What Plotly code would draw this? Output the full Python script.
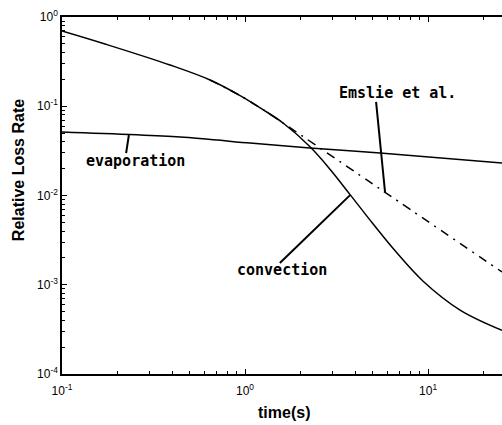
import plotly.graph_objects as go

# ---- data ----
conv_t = [0.1, 0.1718, 0.389, 0.644, 0.940, 1.259, 1.614, 2.265, 2.911, 3.750, 5.012, 6.607, 9.397, 14.96, 25.35]
conv_y = [0.697, 0.498, 0.290, 0.197, 0.1318, 0.0912, 0.0649, 0.0351, 0.0197, 0.01023, 0.00479, 0.0024, 0.001096, 0.000521, 0.000309]

emslie_t = [0.644, 0.940, 1.259, 1.614, 5.68, 25.35]
emslie_y = [0.197, 0.1318, 0.0912, 0.0649, 0.01122, 0.00139]

evap_t = [0.1, 0.442, 1.064, 2.26, 5.47, 25.35]
evap_y = [0.0514, 0.0452, 0.0387, 0.0340, 0.0299, 0.0231]

# leader lines (label -> curve)
lead_emslie_t = [5.20, 5.82]
lead_emslie_y = [0.1117, 0.01094]
lead_evap_t = [0.232, 0.224]
lead_evap_y = [0.0476, 0.0299]
lead_conv_t = [1.55, 3.75]
lead_conv_y = [0.00175, 0.0101]

x_ticks = [0.1, 1, 10]
x_ticktext = ["10<sup>-1</sup>", "10<sup>0</sup>", "10<sup>1</sup>"]
y_ticks = [1e-4, 1e-3, 1e-2, 1e-1, 1]
y_ticktext = ["10<sup>-4</sup>", "10<sup>-3</sup>", "10<sup>-2</sup>", "10<sup>-1</sup>", "10<sup>0</sup>"]

x_minor = [m * d for d in [0.1, 1, 10] for m in range(2, 10)]
y_minor = [m * d for d in [1e-4, 1e-3, 1e-2, 1e-1] for m in range(2, 10)]

fig = go.Figure()
fig.add_trace(go.Scatter(x=conv_t, y=conv_y, mode="lines",
                         line=dict(color="black", width=1.5, shape="spline", smoothing=1.0), showlegend=False))
fig.add_trace(go.Scatter(x=emslie_t, y=emslie_y, mode="lines",
                         line=dict(color="black", width=1.5, dash="9px,6px,2px,6px", shape="spline", smoothing=0.6),
                         showlegend=False))
fig.add_trace(go.Scatter(x=evap_t, y=evap_y, mode="lines",
                         line=dict(color="black", width=1.5, shape="spline", smoothing=0.8), showlegend=False))
for lt, ly in [(lead_emslie_t, lead_emslie_y), (lead_evap_t, lead_evap_y), (lead_conv_t, lead_conv_y)]:
    fig.add_trace(go.Scatter(x=lt, y=ly, mode="lines", line=dict(color="black", width=2), showlegend=False))

lab_font = dict(family="DejaVu Sans Mono", size=15, color="black")
fig.add_annotation(x=0.831, y=-0.852, xref="x", yref="y", text="<b>Emslie et al.</b>", showarrow=False, font=lab_font)
fig.add_annotation(x=-0.596, y=-1.613, xref="x", yref="y", text="<b>evaporation</b>", showarrow=False, font=lab_font)
fig.add_annotation(x=0.202, y=-2.835, xref="x", yref="y", text="<b>convection</b>", showarrow=False, font=lab_font)

fig.add_annotation(x=0.505, y=-0.109, xref="paper", yref="paper", text="<b>time(s)</b>", showarrow=False,
                   xanchor="center", yanchor="middle",
                   font=dict(family="Liberation Sans", size=16, color="black"))
fig.add_annotation(x=-0.1, y=0.571, xref="paper", yref="paper", text="<b>Relative Loss Rate</b>", showarrow=False,
                   xanchor="center", yanchor="middle", textangle=-90,
                   font=dict(family="Liberation Sans", size=16, color="black"))

tickfont = dict(family="Liberation Sans", size=12, color="black")
fig.update_xaxes(type="log", range=[-1, 1.404], showgrid=False, zeroline=False,
                 showline=True, linecolor="black", linewidth=1.5, mirror="allticks",
                 ticks="inside", ticklen=5, tickcolor="black", tickvals=x_ticks, ticktext=x_ticktext,
                 tickfont=tickfont, ticklabelstandoff=5,
                 minor=dict(tickvals=x_minor, ticks="inside", ticklen=3, tickcolor="black", showgrid=False))
fig.update_yaxes(type="log", range=[-4, 0], showgrid=False, zeroline=False,
                 showline=True, linecolor="black", linewidth=1.5, mirror=False,
                 ticks="inside", ticklen=5, tickcolor="black", tickvals=y_ticks, ticktext=y_ticktext,
                 tickfont=tickfont,
                 minor=dict(tickvals=y_minor, ticks="inside", ticklen=3, tickcolor="black", showgrid=False))

fig.update_layout(width=502, height=425, margin=dict(l=62, r=0, t=17, b=51),
                  plot_bgcolor="white", paper_bgcolor="white")
fig.write_html("out.html")
